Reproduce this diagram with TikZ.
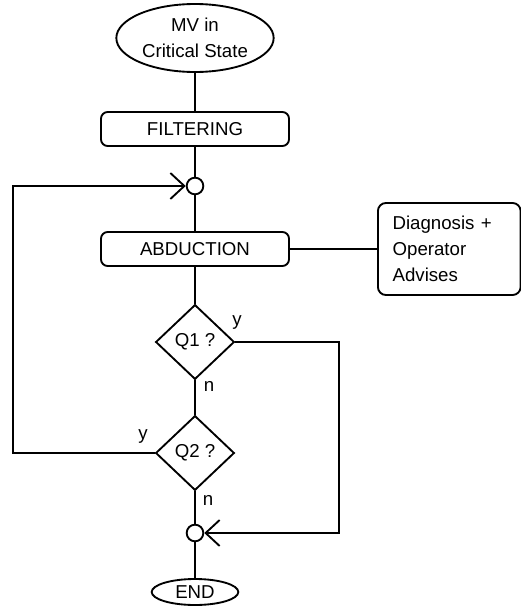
\documentclass[tikz,border=0pt]{standalone}
\usepackage{fontspec}
\setmainfont{Liberation Sans}
\usetikzlibrary{shapes.geometric,arrows.meta}

\begin{document}
\begin{tikzpicture}[x=0.75pt,y=0.75pt,yscale=-1,xscale=1,
  every node/.style={font=\fontsize{14}{19.5}\selectfont},
  line/.style={line width=1.4pt},
  flow/.style={line, -{Straight Barb[length=10.5pt,width=19.5pt,line width=1.4pt]}},
  term/.style={ellipse, draw, line width=1.4pt, inner sep=0pt, align=center},
  proc/.style={rectangle, draw, line width=1.4pt, rounded corners=5pt, minimum width=141pt, minimum height=25.5pt},
  quest/.style={diamond, draw, line width=1.4pt, inner sep=0pt, minimum width=59pt, minimum height=56pt},
  joint/.style={circle, draw, line width=1.4pt, minimum size=12.5pt, inner sep=0pt}]
\useasboundingbox (0,0) rectangle (521,607);

%Start and process blocks
\node[term, minimum width=118pt, minimum height=51pt] (mv) at (195,38) {MV in\\Critical State};
\node[proc] (filt) at (195,129) {FILTERING};
\node[joint] (j1) at (195,186) {};
\node[proc] (abd) at (195,249) {ABDUCTION};
\node[draw, line, rounded corners=6pt, align=left, anchor=west, minimum height=69pt, text width=85pt, inner xsep=11pt] (diag) at (377,249) {Diagnosis +\\Operator\\Advises};

%Questions
\node[quest] (q1) at (195,342) {Q1 ?};
\node[quest] (q2) at (195,453) {Q2 ?};
\node[joint] (j2) at (195,533) {};
\node[term, minimum width=65pt, minimum height=19.5pt] (end) at (195,592) {END};

% Text Node
\node (q1y) at (237,323) {y};
\node (q1n) at (209,386) {n};
\node (q2y) at (143,436) {y};
\node (q2n) at (208,500) {n};

%Loop corners
\coordinate (loopL) at (13,453);
\coordinate (loopR) at (339,342);

%Connections
\draw[line] (mv) -- (filt);
\draw[line] (filt) -- (j1);
\draw[line] (j1) -- (abd);
\draw[line] (abd) -- (diag);
\draw[line] (abd) -- (q1);
\draw[line] (q1) -- (q2);
\draw[line] (q2) -- (j2);
\draw[line] (j2) -- (end);
\draw[flow] (q2.west) -- (loopL) |- (j1.west);
\draw[flow] (q1.east) -- (loopR) |- (j2.east);

\end{tikzpicture}
\end{document}
